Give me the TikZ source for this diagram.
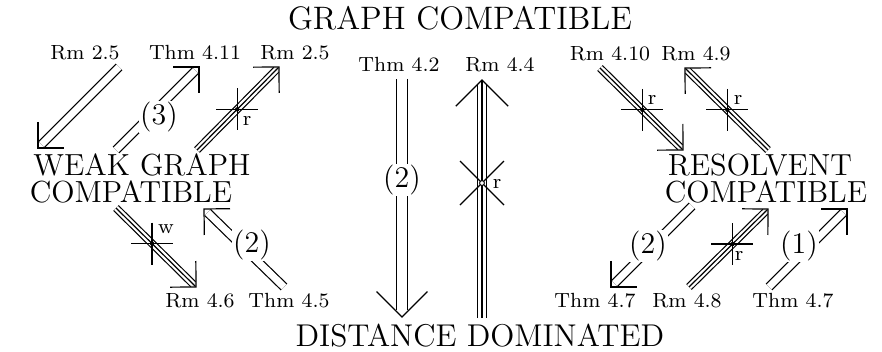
\documentclass[tikz,border=0pt]{standalone}
\usetikzlibrary{calc}
\font\bigf=cmr12 at 30.5pt
\font\titf=cmr12 at 32.5pt
\font\botf=cmr12 at 31.5pt
\font\smf=cmr8 at 20.5pt
\font\parf=cmr12 at 30pt
\tikzset{
  big/.style={font=\bigf, anchor=base, inner sep=0pt},
  sml/.style={font=\smf, anchor=base, inner sep=0pt},
  tag/.style={font=\smf, inner sep=0pt},
  paren/.style={font=\parf, fill=white, inner sep=1pt},
  dbl/.style={line width=1.2pt, double=white, double distance=7pt, shorten >=5pt},
  dblv/.style={line width=1.2pt, double=white, double distance=10.4pt, shorten >=7pt},
  tri/.style={line width=1.2pt, double=white, double distance=5.6pt, shorten >=4pt},
  trimid/.style={line width=1.2pt, shorten >=1pt},
  triv/.style={line width=1.2pt, double=white, double distance=7.6pt, shorten >=5pt},
  barb/.style={line width=1.2pt, line join=miter},
  crossln/.style={line width=1.2pt},
}
\newcommand\mkbarbs[3]{\draw[barb] ($(#2)!#3!45:(#1)$) -- (#2) -- ($(#2)!#3!-45:(#1)$);}
\newcommand\dcross[1]{%
  \draw[crossln] ($(#1)+(-21,0)$) -- ($(#1)+(21,0)$);
  \draw[crossln] ($(#1)+(0,-21)$) -- ($(#1)+(0,21)$);
  \fill (#1) circle (2.2pt);}
\newcommand\vcross[1]{%
  \draw[crossln] ($(#1)+(-22,-22)$) -- ($(#1)+(22,22)$);
  \draw[crossln] ($(#1)+(-22,22)$) -- ($(#1)+(22,-22)$);
  \draw[line width=0.9pt, fill=white] (#1) circle (2.4pt);}
\begin{document}
\begin{tikzpicture}[x=1pt, y=-1pt]
\useasboundingbox (0,0) rectangle (882,352);
% main texts
\node[big, font=\titf] (gc) at (460,30) {GRAPH COMPATIBLE};
\node[big, font=\botf] (dd) at (480,346) {DISTANCE DOMINATED};
\node[big] (wg1) at (142,176) {WEAK GRAPH};
\node[big] (wg2) at (131,203) {COMPATIBLE};
\node[big] (rc1) at (760,176) {RESOLVENT};
\node[big] (rc2) at (766,203) {COMPATIBLE};
% reference labels
\node[sml] (l1) at (85,60) {Rm 2.5};
\node[sml] (l2) at (195,60) {Thm 4.11};
\node[sml] (l3) at (295,60) {Rm 2.5};
\node[sml] (l4) at (399,72) {Thm 4.2};
\node[sml] (l5) at (500,72) {Rm 4.4};
\node[sml] (l6) at (610,61) {Rm 4.10};
\node[sml] (l7) at (696,61) {Rm 4.9};
\node[sml] (l8) at (200,307) {Rm 4.6};
\node[sml] (l9) at (289,307) {Thm 4.5};
\node[sml] (l10) at (595,307) {Thm 4.7};
\node[sml] (l11) at (687,307) {Rm 4.8};
\node[sml] (l12) at (793,307) {Thm 4.7};
% arrow end points
\coordinate (a1s) at (119,67);  \coordinate (a1t) at (38,148);
\coordinate (a2s) at (116,150); \coordinate (a2t) at (199,67);
\coordinate (a3s) at (197,150); \coordinate (a3t) at (279,67);
\coordinate (a4s) at (116,208); \coordinate (a4t) at (196,287);
\coordinate (a5s) at (284,287); \coordinate (a5t) at (204,209);
\coordinate (a6s) at (402,79);  \coordinate (a6t) at (402,317);
\coordinate (a7s) at (482,318); \coordinate (a7t) at (482,80);
\coordinate (a8s) at (600,68);  \coordinate (a8t) at (683,150);
\coordinate (a9s) at (768,150); \coordinate (a9t) at (685,68);
\coordinate (a10s) at (692,206); \coordinate (a10t) at (611,287);
\coordinate (a11s) at (689,287); \coordinate (a11t) at (768,209);
\coordinate (a12s) at (769,287); \coordinate (a12t) at (847,209);
% A1
\draw[dbl] (a1s) -- (a1t); \mkbarbs{a1s}{a1t}{26pt}
% A2 (3)
\draw[dbl] (a2s) -- (a2t); \mkbarbs{a2s}{a2t}{26pt}
\node[paren] (p3) at (159,117) {(3)};
% A3 r
\draw[tri] (a3s) -- (a3t); \draw[trimid] (a3s) -- (a3t); \mkbarbs{a3s}{a3t}{26pt}
\coordinate (c3) at ($(a3s)!0.49!(a3t)$); \dcross{c3}
\node[tag] (r3) at (247,121) {r};
% A4 w
\draw[tri] (a4s) -- (a4t); \draw[trimid] (a4s) -- (a4t); \mkbarbs{a4s}{a4t}{26pt}
\coordinate (c4) at ($(a4s)!0.45!(a4t)$); \dcross{c4}
\node[tag] (w4) at (166,229) {w};
% A5 (2)
\draw[dbl] (a5s) -- (a5t); \mkbarbs{a5s}{a5t}{26pt}
\node[paren] (p5) at (252,245) {(2)};
% A6 (2) vertical
\draw[dblv] (a6s) -- (a6t); \mkbarbs{a6s}{a6t}{36pt}
\node[paren] (p6) at (402,180) {(2)};
% A7 r vertical
\draw[triv] (a7s) -- (a7t); \draw[trimid] (a7s) -- (a7t); \mkbarbs{a7s}{a7t}{37pt}
\coordinate (c7) at ($(a7s)!0.567!(a7t)$); \vcross{c7}
\node[tag] (r7) at (497,184) {r};
% A8 r
\draw[tri] (a8s) -- (a8t); \draw[trimid] (a8s) -- (a8t); \mkbarbs{a8s}{a8t}{26pt}
\coordinate (c8) at ($(a8s)!0.51!(a8t)$); \dcross{c8}
\node[tag] (r8) at (652,100) {r};
% A9 r
\draw[tri] (a9s) -- (a9t); \draw[trimid] (a9s) -- (a9t); \mkbarbs{a9s}{a9t}{26pt}
\coordinate (c9) at ($(a9s)!0.49!(a9t)$); \dcross{c9}
\node[tag] (r9) at (738,100) {r};
% A10 (2)
\draw[dbl] (a10s) -- (a10t); \mkbarbs{a10s}{a10t}{26pt}
\node[paren] (p10) at (648,246) {(2)};
% A11 r
\draw[tri] (a11s) -- (a11t); \draw[trimid] (a11s) -- (a11t); \mkbarbs{a11s}{a11t}{26pt}
\coordinate (c11) at ($(a11s)!0.55!(a11t)$); \dcross{c11}
\node[tag] (r11) at (739,256) {r};
% A12 (1)
\draw[dbl] (a12s) -- (a12t); \mkbarbs{a12s}{a12t}{26pt}
\node[paren] (p12) at (799,246) {(1)};
\end{tikzpicture}
\end{document}
